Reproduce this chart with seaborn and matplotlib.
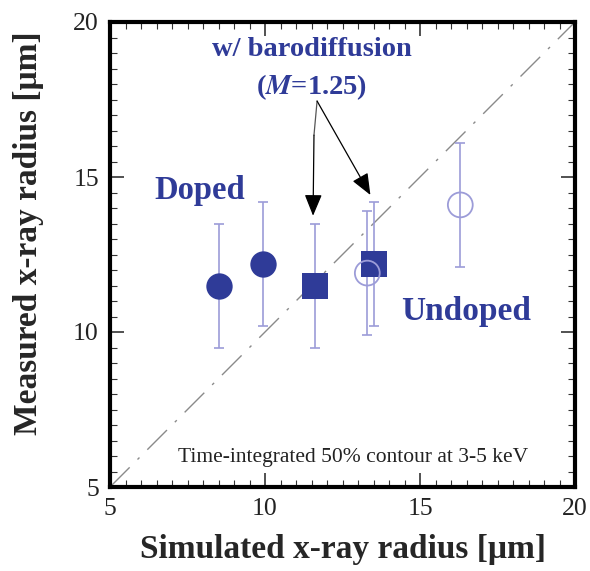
import matplotlib
matplotlib.use("Agg")
import matplotlib.pyplot as plt
import seaborn as sns
import pandas as pd

# ---- data ----
sim_radius = [8.5, 9.95, 11.6, 13.5, 13.3, 16.3]
meas_radius = [11.5, 12.2, 11.5, 12.2, 11.9, 14.1]
meas_err = [2.0, 2.0, 2.0, 2.0, 2.0, 2.0]
group = ["Doped", "Doped", "Baro", "Baro", "Undoped", "Undoped"]

df = pd.DataFrame({"sim": sim_radius, "meas": meas_radius, "err": meas_err, "group": group})

sns.set_theme(style="ticks")
plt.rcParams["font.family"] = ["Liberation Serif", "DejaVu Serif"]
plt.rcParams["mathtext.fontset"] = "stix"

BLUE = "#2f3b98"
ERRC = "#9c9cd8"

fig = plt.figure(figsize=(5.9, 5.71), dpi=100)
ax = fig.add_axes([110/590, 84/571, 465/590, 465/571])

# diagonal reference y = x
ax.plot([5, 20], [5, 20], color="#8a8a8a", lw=1.0, dashes=[20, 8, 2, 8], zorder=1)

# error bars
ax.errorbar(df["sim"], df["meas"], yerr=df["err"], fmt="none", ecolor=ERRC,
            elinewidth=1.2, capsize=3.3, capthick=1.2, zorder=2)

doped = df[df["group"] == "Doped"]
baro = df[df["group"] == "Baro"]
undoped = df[df["group"] == "Undoped"]

sns.scatterplot(data=doped, x="sim", y="meas", marker="o", s=360, color=BLUE,
                edgecolor=BLUE, linewidth=0, ax=ax, zorder=3, legend=False)
sns.scatterplot(data=baro, x="sim", y="meas", marker="s", s=340, color=BLUE,
                edgecolor=BLUE, linewidth=0, ax=ax, zorder=3, legend=False)
sns.scatterplot(data=undoped, x="sim", y="meas", marker="o", s=320, facecolor="none",
                edgecolor=ERRC, linewidth=1.3, ax=ax, zorder=3, legend=False)

ax.set_xlim(5, 20)
ax.set_ylim(5, 20)
ax.set_xticks([5, 10, 15, 20])
ax.set_yticks([5, 10, 15, 20])
ax.set_xticks([5 + 0.5 * i for i in range(31)], minor=True)
ax.set_yticks([5 + 0.5 * i for i in range(31)], minor=True)
ax.tick_params(which="both", direction="in", top=True, right=True, colors="#333333")
ax.tick_params(which="major", length=10, width=1.2, labelsize=18.5, pad=8, labelcolor="#222222")
ax.tick_params(which="minor", length=5, width=0.8)
for s in ax.spines.values():
    s.set_linewidth(3)
    s.set_color("black")

ax.set_xlabel("Simulated x-ray radius [μm]", fontsize=24, fontweight="bold", labelpad=10)
ax.set_ylabel("Measured x-ray radius [μm]", fontsize=24, fontweight="bold")
ax.yaxis.set_label_coords(-0.142, 0.546)

# annotations
ax.text(7.9, 14.55, "Doped", color=BLUE, fontsize=23.5, fontweight="bold", ha="center", va="center")
ax.text(16.5, 10.65, "Undoped", color=BLUE, fontsize=24, fontweight="bold", ha="center", va="center")
ax.text(11.5, 19.1, "w/ barodiffusion", color=BLUE, fontsize=20.5, fontweight="bold", ha="center", va="center")
ax.text(11.5, 17.9, r"($\boldsymbol{M}$=1.25)", color=BLUE, fontsize=20.5, fontweight="bold",
        ha="center", va="center")
ax.text(12.85, 5.95, "Time-integrated 50% contour at 3-5 keV", color="#222222", fontsize=15.5,
        ha="center", va="center")

# arrows
ax.plot([11.68, 11.58], [17.45, 16.35], color="#555555", lw=0.9)
ax.annotate("", xy=(11.55, 13.75), xytext=(11.58, 16.35),
            arrowprops=dict(arrowstyle="-|>,head_length=1.1,head_width=0.45", color="black",
                            lw=0.9, shrinkA=0, shrinkB=0))
ax.annotate("", xy=(13.4, 14.42), xytext=(11.68, 17.45),
            arrowprops=dict(arrowstyle="-|>,head_length=1.1,head_width=0.45", color="black",
                            lw=0.9, shrinkA=0, shrinkB=0))

fig.savefig("out.png", dpi=100)
